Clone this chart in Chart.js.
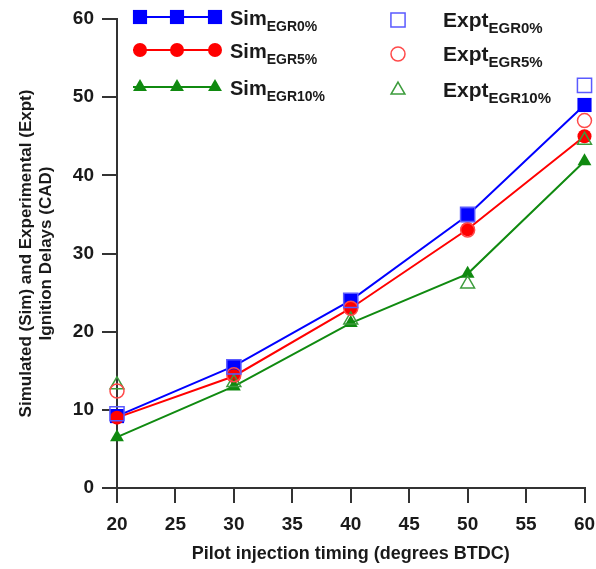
<!DOCTYPE html>
<html><head><meta charset="utf-8">
<script src="https://cdn.jsdelivr.net/npm/chart.js@4/dist/chart.umd.min.js"></script>
<style>html,body{margin:0;padding:0;background:#fff}</style></head>
<body>
<canvas id="c" width="596" height="569"></canvas>
<script>
const timings = [20, 30, 40, 50, 60];
const simEGR0 = [9.2, 15.6, 24.0, 34.9, 49.0];
const simEGR5 = [9.0, 14.3, 23.0, 33.1, 45.0];
const simEGR10 = [6.5, 13.0, 21.1, 27.4, 41.8];
const exptEGR0 = [9.5, 15.5, 24.0, 35.0, 51.5];
const exptEGR5 = [12.4, 14.5, 23.0, 33.0, 47.0];
const exptEGR10 = [13.2, 13.5, 21.5, 26.1, 44.5];
const seriesSubs = ['EGR0%', 'EGR5%', 'EGR10%'];
const xTitle = 'Pilot injection timing (degrees BTDC)';
const yTitle = ['Simulated (Sim) and Experimental (Expt)', 'Ignition Delays (CAD)'];

const simColors = ['#0000ff', '#ff0000', '#108a10'];
const exptColors = ['#5a5aff', '#ff4a4a', '#3c9c3c'];
const styles = ['rect', 'circle', 'triangle'];
const radii = [10, 7, 8];

const pts = arr => timings.map((t, i) => ({x: t, y: arr[i]}));

const sims = [simEGR0, simEGR5, simEGR10];
const expts = [exptEGR0, exptEGR5, exptEGR10];
const datasets = [];
expts.forEach((d, i) => datasets.push({
  label: 'Expt' + seriesSubs[i], data: pts(d), showLine: false, clip: false,
  pointStyle: styles[i], pointRadius: radii[i], pointBorderWidth: 1.5,
  pointBackgroundColor: 'rgba(0,0,0,0)', pointBorderColor: exptColors[i],
  borderColor: exptColors[i], order: 0
}));
sims.forEach((d, i) => datasets.push({
  label: 'Sim' + seriesSubs[i], data: pts(d), showLine: true, clip: false,
  borderColor: simColors[i], borderWidth: 2,
  pointStyle: styles[i], pointRadius: radii[i], pointBorderWidth: 0,
  pointBackgroundColor: simColors[i], pointBorderColor: simColors[i],
  order: 3 - i
}));

function marker(ctx, style, x, y, r, fill, color, lw) {
  ctx.save();
  ctx.beginPath();
  if (style === 'rect') {
    const s = r * Math.SQRT1_2;
    ctx.rect(x - s, y - s, 2 * s, 2 * s);
  } else if (style === 'circle') {
    ctx.arc(x, y, r, 0, Math.PI * 2);
  } else {
    ctx.moveTo(x, y - r);
    ctx.lineTo(x + Math.sin(2 * Math.PI / 3) * r, y - Math.cos(2 * Math.PI / 3) * r);
    ctx.lineTo(x + Math.sin(4 * Math.PI / 3) * r, y - Math.cos(4 * Math.PI / 3) * r);
    ctx.closePath();
  }
  if (fill) { ctx.fillStyle = color; ctx.fill(); }
  else { ctx.strokeStyle = color; ctx.lineWidth = lw; ctx.stroke(); }
  ctx.restore();
}

const FF = '"Liberation Sans", Arial, sans-serif';
const legendPlugin = {
  id: 'customLegend',
  afterDraw(chart) {
    const ctx = chart.ctx;
    const rowsSim = [17, 50, 87];
    const rowsExp = [20, 54, 90];
    ctx.save();
    ctx.textBaseline = 'alphabetic';
    for (let i = 0; i < 3; i++) {
      const y = rowsSim[i];
      ctx.strokeStyle = simColors[i];
      ctx.lineWidth = 2;
      ctx.beginPath(); ctx.moveTo(133, y); ctx.lineTo(218, y); ctx.stroke();
      [140, 177, 215].forEach(x => marker(ctx, styles[i], x, y, radii[i], true, simColors[i]));
      ctx.fillStyle = '#1a1a1a';
      ctx.font = 'bold 20px ' + FF;
      ctx.fillText('Sim', 230, y + 8);
      const w = ctx.measureText('Sim').width;
      ctx.font = 'bold 14px ' + FF;
      ctx.fillText(seriesSubs[i], 230 + w, y + 14);

      const ye = rowsExp[i];
      marker(ctx, styles[i], 398, ye, radii[i], false, exptColors[i], 1.5);
      ctx.font = 'bold 21px ' + FF;
      ctx.fillText('Expt', 443, ye + 7);
      const we = ctx.measureText('Expt').width;
      ctx.font = 'bold 15px ' + FF;
      ctx.fillText(seriesSubs[i], 443 + we, ye + 13);
    }
    ctx.restore();
  }
};

const tickFont = {family: FF, size: 19, weight: 'bold'};
new Chart(document.getElementById('c'), {
  type: 'scatter',
  data: {datasets},
  options: {
    responsive: false, animation: false,
    layout: {padding: {top: 19, right: 11, left: 0, bottom: 0}},
    plugins: {legend: {display: false}, tooltip: {enabled: false}},
    scales: {
      x: {
        type: 'linear', min: 20, max: 60,
        ticks: {stepSize: 5, color: '#1a1a1a', font: tickFont, padding: 10, maxRotation: 0},
        grid: {drawOnChartArea: false, drawTicks: true, tickLength: 15, color: '#333', lineWidth: 2},
        border: {display: true, color: '#333', width: 2},
        title: {display: true, text: xTitle, color: '#1a1a1a',
          font: {family: FF, size: 18, weight: 'bold'}, padding: {top: 0}},
        afterFit(s) { s.height = 81; s.paddingRight = 0; s.paddingLeft = 0; }
      },
      y: {
        type: 'linear', min: 0, max: 60,
        ticks: {stepSize: 10, color: '#1a1a1a', font: tickFont, padding: 8},
        grid: {drawOnChartArea: false, drawTicks: true, tickLength: 15, color: '#333', lineWidth: 2},
        border: {display: true, color: '#333', width: 2},
        title: {display: true, text: yTitle, color: '#1a1a1a',
          font: {family: FF, size: 17, weight: 'bold', lineHeight: 1.15}, padding: {top: 17, bottom: 0}},
        afterFit(s) { s.width = 117; s.paddingTop = 0; s.paddingBottom = 0; }
      }
    }
  },
  plugins: [legendPlugin]
});
</script>
</body></html>
